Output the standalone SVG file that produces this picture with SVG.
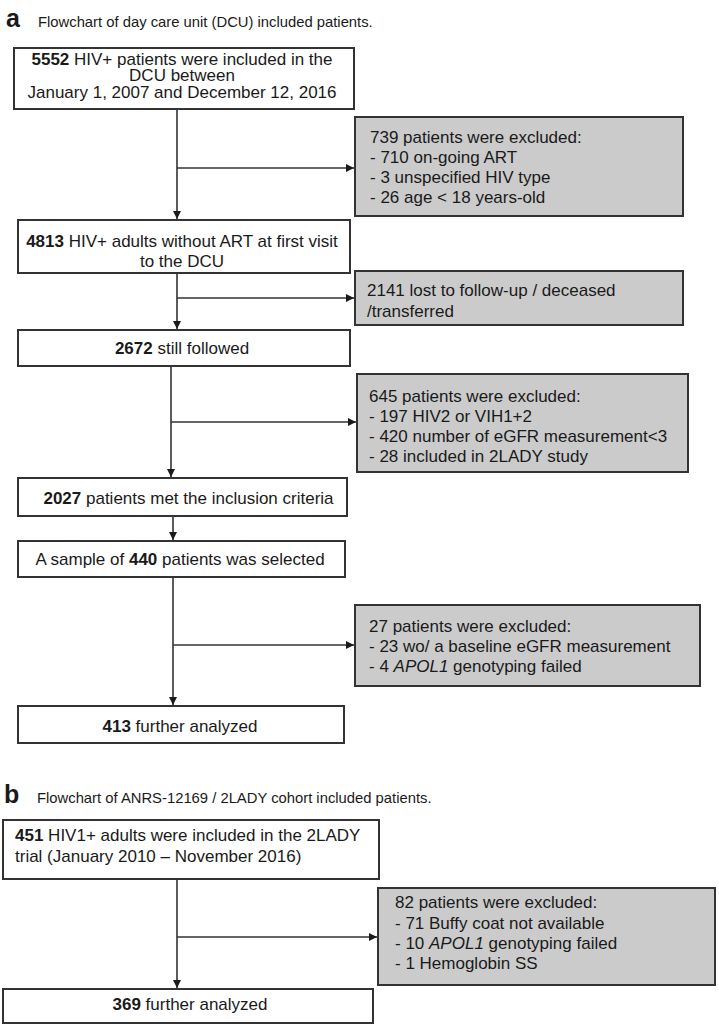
<svg xmlns="http://www.w3.org/2000/svg" width="719" height="1028" viewBox="0 0 719 1028">
<defs>
<style>
.t{font-family:"Liberation Sans",Arial,sans-serif;font-size:17px;fill:#1a1a1a}
.c{text-anchor:middle}
.b{font-weight:bold}
.lab{font-family:"Liberation Sans",Arial,sans-serif;font-size:25px;font-weight:bold;fill:#1a1a1a}
.ttl{font-family:"Liberation Sans",Arial,sans-serif;font-size:14.8px;fill:#1a1a1a}
.wb{fill:#ffffff;stroke:#333333;stroke-width:2}
.gb{fill:#cbcbcb;stroke:#333333;stroke-width:2}
.ln{fill:none;stroke:#333333;stroke-width:1.6}
</style>
<marker id="ah" viewBox="0 0 8 8" refX="8" refY="4" markerWidth="8" markerHeight="8" markerUnits="userSpaceOnUse" orient="auto">
<path d="M0,0 L8,4 L0,8 z" fill="#1a1a1a"/>
</marker>
</defs>
<rect width="719" height="1028" fill="#ffffff"/>

<g id="title-a">
<text class="lab" x="6" y="27">a</text>
<text class="ttl" x="38" y="27">Flowchart of day care unit (DCU) included patients.</text>
</g>

<g id="connectors">
<path class="ln" d="M177,109 V219" marker-end="url(#ah)"/>
<path class="ln" d="M177,168 H354" marker-end="url(#ah)"/>
<path class="ln" d="M177,273 V329" marker-end="url(#ah)"/>
<path class="ln" d="M177,298 H354" marker-end="url(#ah)"/>
<path class="ln" d="M171,366 V477" marker-end="url(#ah)"/>
<path class="ln" d="M171,422 H356" marker-end="url(#ah)"/>
<path class="ln" d="M173,516 V540" marker-end="url(#ah)"/>
<path class="ln" d="M173,577 V705" marker-end="url(#ah)"/>
<path class="ln" d="M173,645 H354" marker-end="url(#ah)"/>
<path class="ln" d="M177,879 V988" marker-end="url(#ah)"/>
<path class="ln" d="M177,937 H377" marker-end="url(#ah)"/>
</g>

<g id="n1">
<rect class="wb" x="14" y="48" width="340" height="61"/>
<text class="t c" x="182" y="65"><tspan class="b">5552</tspan> HIV+ patients were included in the</text>
<text class="t c" x="182" y="81">DCU between</text>
<text class="t c" x="182" y="98">January 1, 2007 and December 12, 2016</text>
</g>

<g id="x1">
<rect class="gb" x="355" y="117" width="328" height="99"/>
<text class="t" x="370" y="143">739 patients were excluded:</text>
<text class="t" x="370" y="163">- 710 on-going ART</text>
<text class="t" x="370" y="183">- 3 unspecified HIV type</text>
<text class="t" x="370" y="203">- 26 age &lt; 18 years-old</text>
</g>

<g id="n2">
<rect class="wb" x="18" y="220" width="332" height="53"/>
<text class="t c" x="182" y="247"><tspan class="b">4813</tspan> HIV+ adults without ART at first visit</text>
<text class="t c" x="182" y="267">to the DCU</text>
</g>

<g id="x2">
<rect class="gb" x="355" y="271" width="328" height="54"/>
<text class="t" x="367" y="296">2141 lost to follow-up / deceased</text>
<text class="t" x="367" y="316.5">/transferred</text>
</g>

<g id="n3">
<rect class="wb" x="18" y="330" width="332" height="36"/>
<text class="t c" x="182" y="354"><tspan class="b">2672</tspan> still followed</text>
</g>

<g id="x3">
<rect class="gb" x="357" y="374" width="331" height="98"/>
<text class="t" x="369" y="402">645 patients were excluded:</text>
<text class="t" x="369" y="422">- 197 HIV2 or VIH1+2</text>
<text class="t" x="369" y="442">- 420 number of eGFR measurement&lt;3</text>
<text class="t" x="369" y="462">- 28 included in 2LADY study</text>
</g>

<g id="n4">
<rect class="wb" x="18" y="478" width="329" height="38"/>
<text class="t c" x="188.5" y="504"><tspan class="b">2027</tspan> patients met the inclusion criteria</text>
</g>

<g id="n5">
<rect class="wb" x="18" y="541" width="327" height="36"/>
<text class="t c" x="180" y="565">A sample of <tspan class="b">440</tspan> patients was selected</text>
</g>

<g id="x4">
<rect class="gb" x="355" y="605" width="345" height="81"/>
<text class="t" x="369" y="632">27 patients were excluded:</text>
<text class="t" x="369" y="652">- 23 wo/ a baseline eGFR measurement</text>
<text class="t" x="369" y="672">- 4 <tspan font-style="italic">APOL1</tspan> genotyping failed</text>
</g>

<g id="n6">
<rect class="wb" x="18" y="706" width="326" height="37"/>
<text class="t c" x="180" y="732"><tspan class="b">413</tspan> further analyzed</text>
</g>

<g id="title-b">
<text class="lab" x="4" y="803">b</text>
<text class="ttl" x="37" y="803">Flowchart of ANRS-12169 / 2LADY cohort included patients.</text>
</g>

<g id="n7">
<rect class="wb" x="3" y="820" width="376" height="59"/>
<text class="t" x="15" y="841"><tspan class="b">451</tspan> HIV1+ adults were included in the 2LADY</text>
<text class="t" x="15" y="862">trial (January 2010 – November 2016)</text>
</g>

<g id="x5">
<rect class="gb" x="378" y="888" width="337" height="97"/>
<text class="t" x="395" y="908">82 patients were excluded:</text>
<text class="t" x="395" y="929">- 71 Buffy coat not available</text>
<text class="t" x="395" y="949">- 10 <tspan font-style="italic">APOL1</tspan> genotyping failed</text>
<text class="t" x="395" y="969">- 1 Hemoglobin SS</text>
</g>

<g id="n8">
<rect class="wb" x="3" y="989" width="370" height="34"/>
<text class="t c" x="190" y="1010"><tspan class="b">369</tspan> further analyzed</text>
</g>
</svg>
